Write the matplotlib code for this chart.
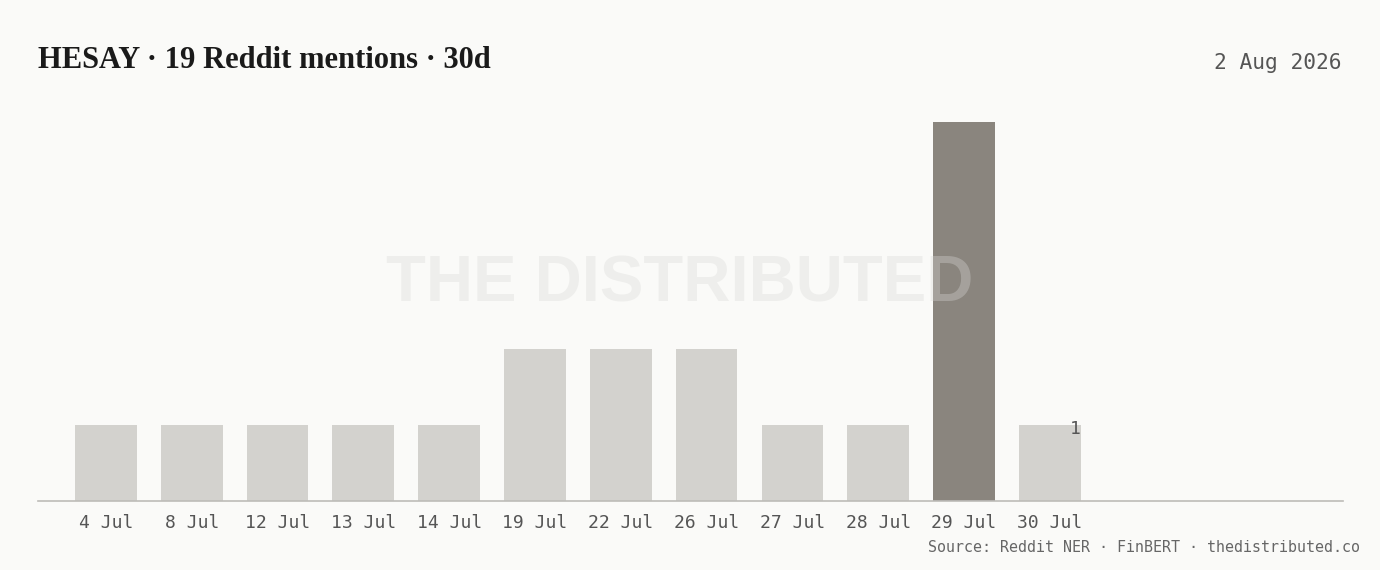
import matplotlib
matplotlib.use("Agg")
from matplotlib import pyplot as plt

# data
days = ["4 Jul", "8 Jul", "12 Jul", "13 Jul", "14 Jul", "19 Jul", "22 Jul",
        "26 Jul", "27 Jul", "28 Jul", "29 Jul", "30 Jul"]
mentions = [1, 1, 1, 1, 1, 2, 2, 2, 1, 1, 5, 1]
peak_day = "29 Jul"
title = "HESAY · 19 Reddit mentions · 30d"
date_label = "2 Aug 2026"
source = "Source: Reddit NER · FinBERT · thedistributed.co"

bg = "#fafaf8"
mono = ["DejaVu Sans Mono"]

fig = plt.figure(figsize=(13.8, 5.7), dpi=100, facecolor=bg)
ax = fig.add_axes([37.5 / 1380, 69 / 570, 1305.5 / 1380, 401 / 570])
ax.set_facecolor(bg)

x = list(range(len(days)))
colors = ["#8a857e" if d == peak_day else "#d3d2ce" for d in days]
bars = ax.bar(x, mentions, width=0.72, color=colors, zorder=2)

ax.set_xlim(-0.798, 14.417)
ax.set_ylim(0, 401 / 75.8)
ax.set_xticks(x)
ax.set_xticklabels(days, fontfamily=mono, fontsize=13, color="#555555")
ax.tick_params(axis="x", length=0, pad=9)
ax.set_yticks([])
for s in ["top", "right", "left"]:
    ax.spines[s].set_visible(False)
ax.spines["bottom"].set_color("#bdbcb8")
ax.spines["bottom"].set_linewidth(1.2)

# value label on last bar
last = bars[-1]
ax.annotate(str(mentions[-1]), (last.get_x() + last.get_width(), mentions[-1]),
            xytext=(0, -3), textcoords="offset points",
            ha="right", va="center", fontfamily=mono, fontsize=13, color="#555555", zorder=3)

# watermark
fig.text(680 / 1380, 1 - 285 / 570, "THE DISTRIBUTED", ha="center", va="center",
         fontfamily="Liberation Sans", fontweight="bold", fontsize=47,
         color="#d8d8d6", alpha=0.35, zorder=5)

fig.text(38 / 1380, 1 - 60 / 570, title, ha="left", va="center",
         fontfamily="Liberation Serif", fontweight="bold", fontsize=22, color="#1a1a1a")
fig.text(1341 / 1380, 1 - 63 / 570, date_label, ha="right", va="center",
         fontfamily=mono, fontsize=15.3, color="#555555")
fig.text(1360 / 1380, 1 - 547 / 570, source, ha="right", va="center",
         fontfamily=mono, fontsize=10.8, color="#666666")

fig.savefig("out.png", dpi=100, facecolor=bg)
